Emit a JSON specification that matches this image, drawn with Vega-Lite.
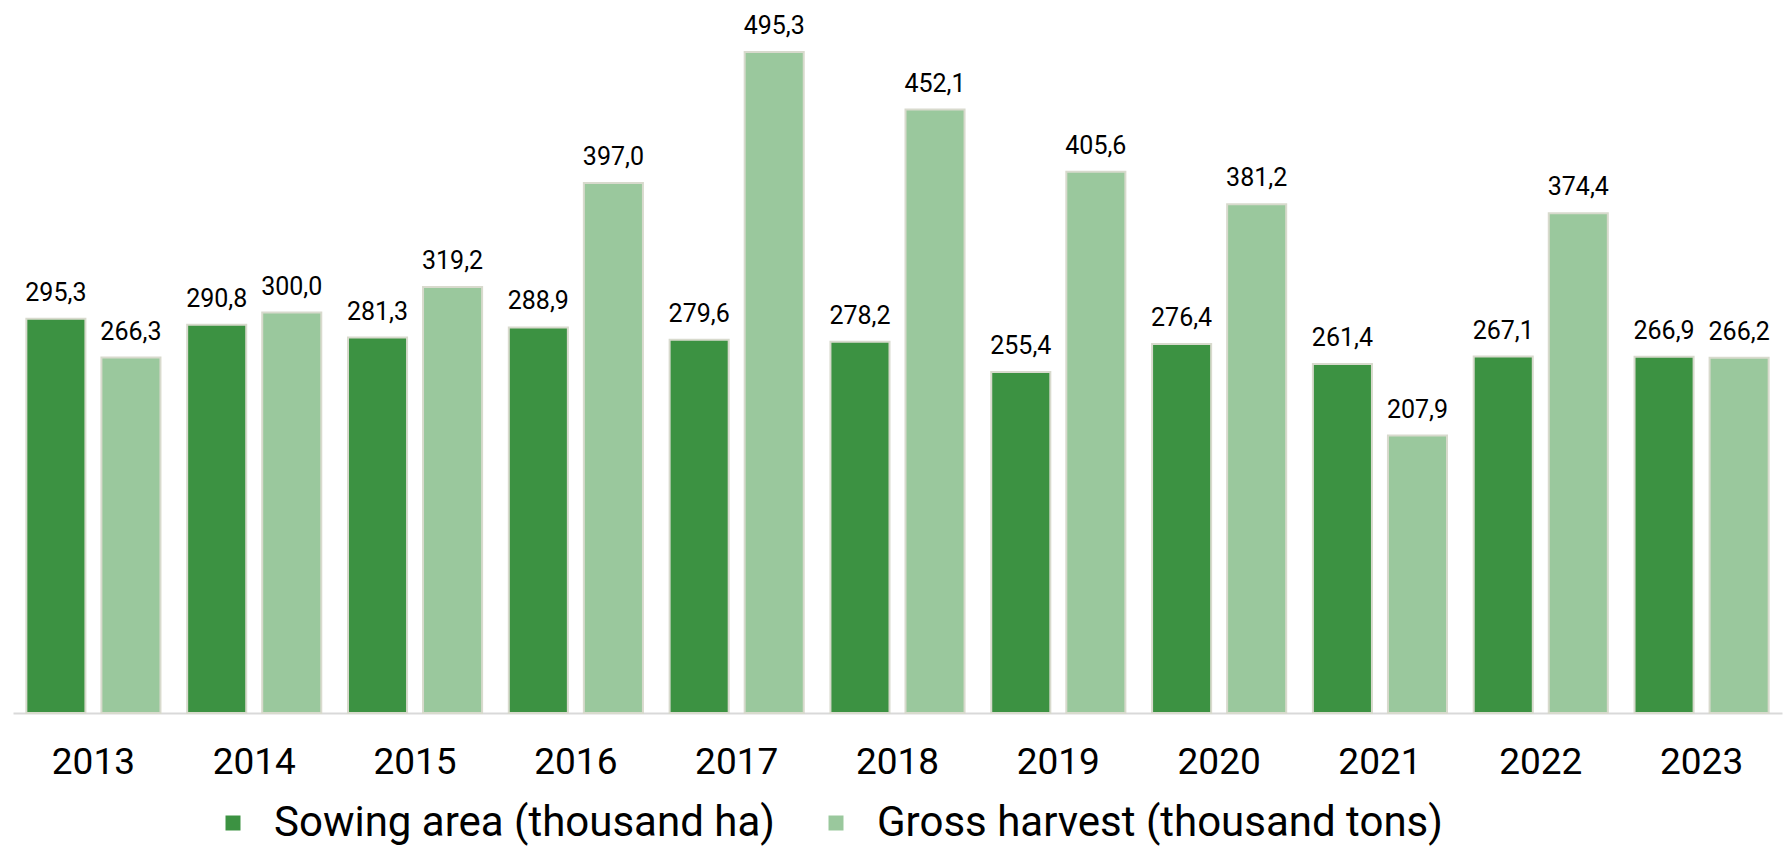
{
  "$schema": "https://vega.github.io/schema/vega-lite/v6.json",
  "width": 1769,
  "height": 713,
  "autosize": "none",
  "padding": {"left": 13, "top": 0, "right": 1, "bottom": 136},
  "background": "white",
  "config": {
    "view": {"stroke": null},
    "font": "Roboto",
    "locale": {"number": {"decimal": ",", "thousands": " ", "grouping": [3], "currency": ["", ""]}}
  },
  "data": {
    "values": [
      {"year": "2013", "series": "Sowing area (thousand ha)", "value": 295.3},
      {"year": "2014", "series": "Sowing area (thousand ha)", "value": 290.8},
      {"year": "2015", "series": "Sowing area (thousand ha)", "value": 281.3},
      {"year": "2016", "series": "Sowing area (thousand ha)", "value": 288.9},
      {"year": "2017", "series": "Sowing area (thousand ha)", "value": 279.6},
      {"year": "2018", "series": "Sowing area (thousand ha)", "value": 278.2},
      {"year": "2019", "series": "Sowing area (thousand ha)", "value": 255.4},
      {"year": "2020", "series": "Sowing area (thousand ha)", "value": 276.4},
      {"year": "2021", "series": "Sowing area (thousand ha)", "value": 261.4},
      {"year": "2022", "series": "Sowing area (thousand ha)", "value": 267.1},
      {"year": "2023", "series": "Sowing area (thousand ha)", "value": 266.9},
      {"year": "2013", "series": "Gross harvest (thousand tons)", "value": 266.3},
      {"year": "2014", "series": "Gross harvest (thousand tons)", "value": 300.0},
      {"year": "2015", "series": "Gross harvest (thousand tons)", "value": 319.2},
      {"year": "2016", "series": "Gross harvest (thousand tons)", "value": 397.0},
      {"year": "2017", "series": "Gross harvest (thousand tons)", "value": 495.3},
      {"year": "2018", "series": "Gross harvest (thousand tons)", "value": 452.1},
      {"year": "2019", "series": "Gross harvest (thousand tons)", "value": 405.6},
      {"year": "2020", "series": "Gross harvest (thousand tons)", "value": 381.2},
      {"year": "2021", "series": "Gross harvest (thousand tons)", "value": 207.9},
      {"year": "2022", "series": "Gross harvest (thousand tons)", "value": 374.4},
      {"year": "2023", "series": "Gross harvest (thousand tons)", "value": 266.2}
    ]
  },
  "encoding": {
    "x": {
      "field": "year",
      "type": "nominal",
      "scale": {"paddingInner": 0.166, "paddingOuter": 0.083},
      "axis": {
        "title": null,
        "labelAngle": 0,
        "labelFontSize": 37,
        "labelFont": "Roboto",
        "labelColor": "#000000",
        "labelBaseline": "alphabetic",
        "labelPadding": 60,
        "ticks": false,
        "tickSize": 0,
        "domainColor": "#d9d9d9",
        "domainWidth": 2,
        "grid": false
      }
    },
    "xOffset": {
      "field": "series",
      "type": "nominal",
      "sort": ["Sowing area (thousand ha)", "Gross harvest (thousand tons)"],
      "scale": {"paddingInner": 0.213, "paddingOuter": 0}
    },
    "y": {
      "field": "value",
      "type": "quantitative",
      "scale": {"domain": [0, 534.2], "nice": false, "zero": true},
      "axis": null
    }
  },
  "layer": [
    {
      "mark": {"type": "bar", "stroke": "#d8dacd", "strokeWidth": 2, "strokeOpacity": 1},
      "encoding": {
        "color": {
          "field": "series",
          "type": "nominal",
          "sort": ["Sowing area (thousand ha)", "Gross harvest (thousand tons)"],
          "scale": {"domain": ["Sowing area (thousand ha)", "Gross harvest (thousand tons)"], "range": ["#3c9242", "#9ac89d"]},
          "legend": {
            "title": null,
            "orient": "none",
            "direction": "horizontal",
            "legendX": 199,
            "legendY": 802,
            "symbolType": "square",
            "symbolSize": 225,
            "symbolStrokeWidth": 0,
            "labelFontSize": 42,
            "labelFont": "Roboto",
            "labelColor": "#000000",
            "labelOffset": 20,
            "columnPadding": 40,
            "labelLimit": 1000
          }
        }
      }
    },
    {
      "mark": {"type": "text", "baseline": "alphabetic", "dy": -18, "fontSize": 25, "font": "Roboto", "color": "#000000"},
      "encoding": {
        "text": {"field": "value", "type": "quantitative", "format": ".1f"}
      }
    }
  ]
}
